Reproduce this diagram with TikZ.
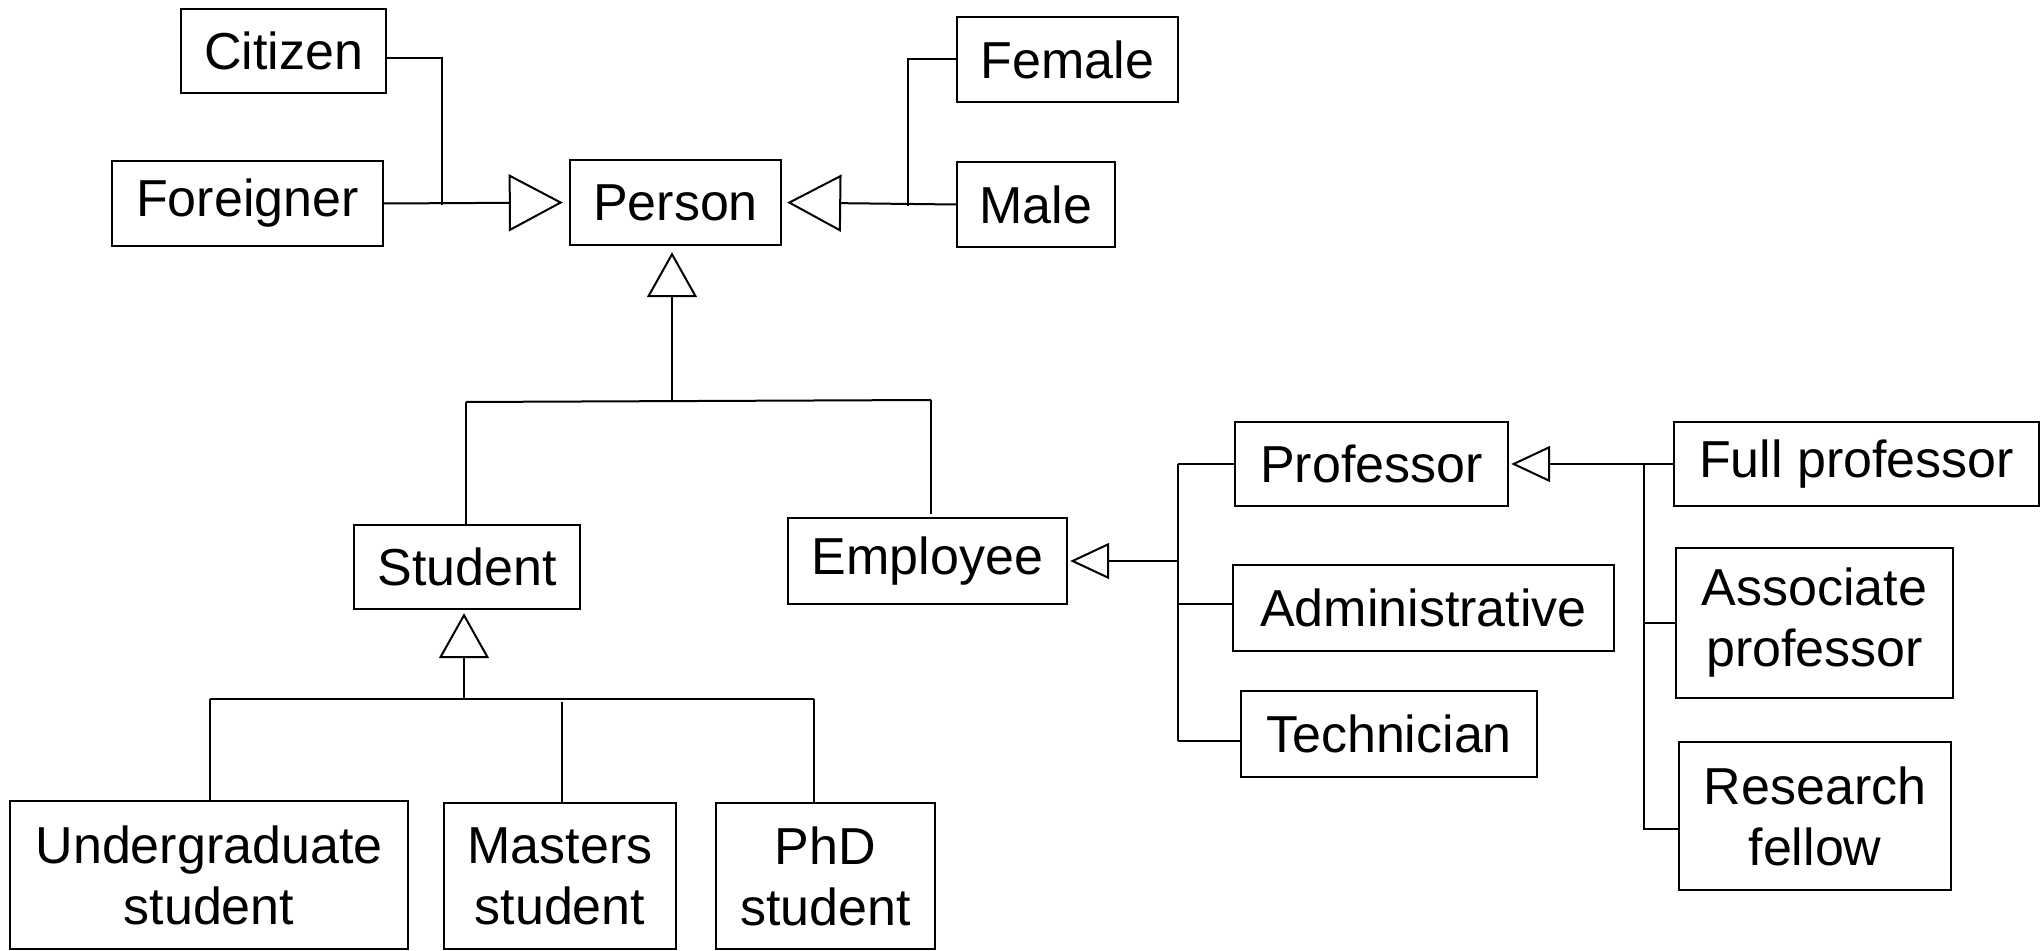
\documentclass[tikz,border=0pt]{standalone}
\usepackage{fontspec}
\setmainfont{Liberation Sans}
\usetikzlibrary{arrows.meta,calc}
\begin{document}
\begin{tikzpicture}[x=0.5pt,y=-0.5pt,
  cls/.style={draw, line width=1.2pt, inner sep=0pt, align=center, font=\fontsize{26}{30.5}\selectfont},
  conn/.style={line width=1pt},
  genL/.style={-{Triangle[open,length=27pt,width=28.5pt,line width=1pt]}},
  genM/.style={-{Triangle[open,length=22.5pt,width=25pt,line width=1pt]}},
  genS/.style={-{Triangle[open,length=19.5pt,width=18pt,line width=1pt]}}]
\useasboundingbox (0,0) rectangle (2041,951);
\node[cls, minimum width=102.5pt, minimum height=42pt] (citizen) at (283.5,51) {Citizen};
\node[cls, minimum width=135.5pt, minimum height=42.5pt] (foreigner) at (247.5,203.5) {Foreigner};
\node[cls, minimum width=105.5pt, minimum height=42.5pt] (person) at (675.5,202.5) {Person};
\node[cls, minimum width=110.5pt, minimum height=42.5pt] (female) at (1067.5,59.5) {Female};
\node[cls, minimum width=79pt, minimum height=42.5pt] (male) at (1036,204.5) {Male};
\node[cls, minimum width=113pt, minimum height=42pt] (student) at (467,567) {Student};
\node[cls, minimum width=139.5pt, minimum height=43pt] (employee) at (927.5,561) {Employee};
\node[cls, minimum width=199pt, minimum height=74pt] (undergrad) at (209,875) {Undergraduate\\student};
\node[cls, minimum width=116pt, minimum height=73pt] (masters) at (560,876) {Masters\\student};
\node[cls, minimum width=109.5pt, minimum height=73pt] (phd) at (825.5,876) {PhD\\student};
\node[cls, minimum width=136.5pt, minimum height=42pt] (professor) at (1371.5,464) {Professor};
\node[cls, minimum width=190.5pt, minimum height=43pt] (administrative) at (1423.5,608) {Administrative};
\node[cls, minimum width=148pt, minimum height=43pt] (technician) at (1389,734) {Technician};
\node[cls, minimum width=182.5pt, minimum height=42pt] (fullprof) at (1856.5,464) {Full professor};
\node[cls, minimum width=138.5pt, minimum height=75pt] (associate) at (1814.5,623) {Associate\\professor};
\node[cls, minimum width=136pt, minimum height=74pt] (research) at (1815,816) {Research\\fellow};
% Person: citizenship
\coordinate (cj) at (442,205);
\draw[conn] ([yshift=-3.5pt]citizen.east) -| (cj);
\draw[conn, genL, shorten >=3pt] (foreigner.east) -- (person.west);
% Person: gender
\coordinate (fj) at (908,206);
\draw[conn] (female.west) -| (fj);
\draw[conn, genL, shorten >=2.5pt] (male.west) -- (person.east);
% Person: student / employee
\coordinate (pj) at (672,401);
\draw[conn, genM, shorten >=3pt] (pj) -- (pj |- person.south);
\coordinate (bl) at (466,402);
\coordinate (br) at (931,400);
\draw[conn] (bl) -- (br);
\draw[conn] (bl) -- (bl |- student.north);
\draw[conn, shorten >=1.5pt] (br) -- (br |- employee.north);
% Student subtypes
\coordinate (sj) at (464,699);
\draw[conn, genM, shorten >=1.5pt] (sj) -- (sj |- student.south);
\coordinate (sl) at (210,699);
\coordinate (sm) at (562,699);
\coordinate (sr) at (814,699);
\draw[conn] (sl) -- (sr);
\draw[conn] (sl) -- (sl |- undergrad.north);
\draw[conn, shorten <=1.5pt] (sm) -- (sm |- masters.north);
\draw[conn] (sr) -- (sr |- phd.north);
% Employee subtypes
\coordinate (ej) at (1178,561);
\coordinate (tj) at ([yshift=-3.5pt]technician.west);
\coordinate (aj) at ([yshift=2pt]administrative.west);
\draw[conn, genS, shorten >=1pt] (ej) -- (employee.east);
\draw[conn] (ej |- professor.west) -- (ej |- tj);
\draw[conn] (ej |- professor.west) -- (professor.west);
\draw[conn] (ej |- aj) -- (aj);
\draw[conn] (ej |- tj) -- (tj);
% Professor subtypes
\coordinate (qj) at (1644,464);
\coordinate (rj) at ([yshift=-6.5pt]research.west);
\draw[conn, genS, shorten >=1pt] (fullprof.west) -- (professor.east);
\draw[conn] (qj) |- (rj);
\draw[conn] (qj |- associate.west) -- (associate.west);
\end{tikzpicture}
\end{document}
